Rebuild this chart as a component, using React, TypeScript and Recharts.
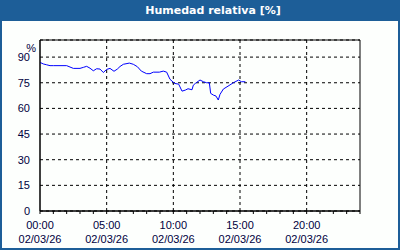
import {
  LineChart,
  Line,
  XAxis,
  YAxis,
  CartesianGrid,
  ReferenceLine,
  ReferenceArea,
} from "recharts";

// hora del dia (decimal) y humedad relativa
const hours = [
  0, 0.25, 0.5, 0.75, 1.0, 1.5, 2.0, 2.25, 2.5, 3.0, 3.25, 3.5, 3.75, 4.0,
  4.25, 4.5, 4.75, 5.0, 5.25, 5.55, 5.8, 6.0, 6.25, 6.7, 7.0, 7.3, 7.6, 8.0,
  8.25, 8.5, 8.95, 9.25, 9.5, 9.75, 10.1, 10.4, 10.65, 10.9, 11.1, 11.4, 11.5,
  11.65, 12.0, 12.25, 12.5, 12.7, 12.8, 13.0, 13.2, 13.37, 13.5, 13.75, 14.1,
  14.5, 14.9, 15.1, 15.4,
];
const humidity = [
  86.9, 86, 85.5, 85, 85, 85, 85, 84.2, 83.4, 83.4, 84, 84.6, 83.5, 82, 83.2,
  83, 81, 82.8, 83.4, 81.7, 83, 84.5, 85.8, 86.5, 85.8, 84.4, 81.8, 80.3, 80.3,
  81.2, 81.2, 81.8, 81.2, 77, 74.6, 74.2, 70.1, 70.7, 71.5, 70.9, 73.6, 74.6,
  76.6, 75.6, 75, 75, 68.8, 67.8, 67.2, 64.9, 68.2, 71.3, 73, 75, 76.6, 75.6,
  75.6,
];

const yTicks = [0, 15, 30, 45, 60, 75, 90];
const hourTicks = Array.from({ length: 25 }, (_, i) => i);
const labelHours = [0, 5, 10, 15, 20];
const dateLabel = "02/03/26";

const data = hours.map((h, i) => ({ h, rh: humidity[i] }));

const textColor = "#000040";
const font = "'Liberation Sans', Arial, sans-serif";

const TimeTick = (props: any) => {
  const { x, y, payload } = props;
  const v = payload.value as number;
  if (!labelHours.includes(v)) return null;
  const hh = String(v).padStart(2, "0") + ":00";
  return (
    <g>
      <text x={x} y={y + 13} textAnchor="middle" fill={textColor} fontSize={11} fontFamily={font}>
        {hh}
      </text>
      <text x={x} y={y + 27} textAnchor="middle" fill={textColor} fontSize={11} fontFamily={font}>
        {dateLabel}
      </text>
    </g>
  );
};

export default function App() {
  return (
    <div
      style={{
        position: "absolute",
        left: 0,
        top: 0,
        width: 400,
        height: 250,
        boxSizing: "border-box",
        border: "2px solid #1d5e98",
        background: "#fdfffd",
      }}
    >
      <div
        style={{
          position: "absolute",
          left: -2,
          top: -2,
          width: 400,
          height: 21,
          background: "#1d5e98",
          color: "#ffffff",
          fontFamily: "'DejaVu Sans', sans-serif",
          fontWeight: "bold",
          fontSize: 11,
          lineHeight: "21px",
          textAlign: "center",
          paddingLeft: 26,
          boxSizing: "border-box",
        }}
      >
        Humedad relativa [%]
      </div>
      <div style={{ position: "absolute", left: -2, top: -2 }}>
        <LineChart
          width={400}
          height={250}
          data={data}
          margin={{ top: 40, right: 40, bottom: 0, left: 0 }}
        >
          <CartesianGrid
            vertical={false}
            stroke="#000000"
            strokeDasharray="3 3"
          />
          {[5, 10, 15, 20].map((v) => (
            <ReferenceLine
              key={v}
              x={v}
              stroke="#000000"
              strokeDasharray="3 3"
            />
          ))}
          <ReferenceArea
            x1={0}
            x2={24}
            y1={0}
            y2={100}
            fill="none"
            stroke="#000000"
            strokeWidth={1}
            fillOpacity={0}
          />
          <XAxis
            dataKey="h"
            type="number"
            domain={[0, 24]}
            ticks={hourTicks}
            interval={0}
            height={39}
            tickSize={3}
            tickLine={{ stroke: "#000000" }}
            axisLine={{ stroke: "#000000" }}
            tick={<TimeTick />}
          />
          <YAxis
            type="number"
            domain={[0, 100]}
            ticks={yTicks}
            interval={0}
            width={40}
            tickLine={false}
            tickMargin={4}
            axisLine={{ stroke: "#000000" }}
            tick={{ fill: textColor, fontSize: 11, fontFamily: font }}
            label={{
              value: "%",
              position: "insideTopRight",
              offset: 4,
              fill: textColor,
              fontSize: 11,
              fontFamily: font,
            }}
          />
          <Line
            type="linear"
            dataKey="rh"
            stroke="#0000ff"
            strokeWidth={1}
            dot={false}
            isAnimationActive={false}
          />
        </LineChart>
      </div>
    </div>
  );
}
